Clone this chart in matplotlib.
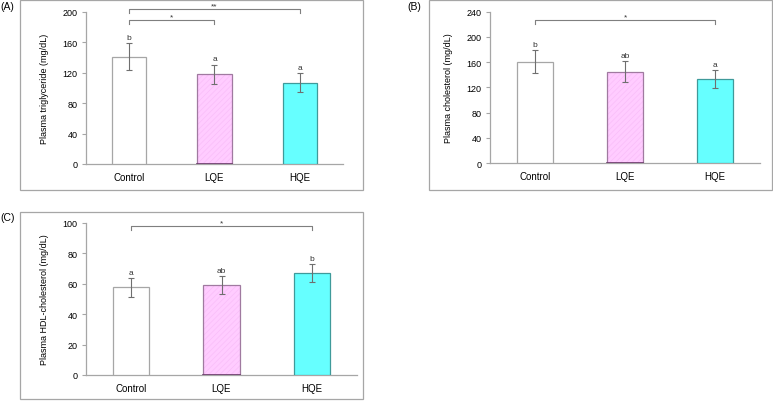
import matplotlib
matplotlib.use("Agg")
import matplotlib.pyplot as plt
from matplotlib.patches import Rectangle

plt.rcParams['font.family'] = ['Liberation Sans', 'DejaVu Sans']
plt.rcParams['hatch.linewidth'] = 0.5

groups = ["Control", "LQE", "HQE"]

tg_mean = [141, 118, 107]
tg_err = [18, 12.5, 12]
tg_letters = ["b", "a", "a"]

chol_mean = [161, 145, 133]
chol_err = [18, 17, 14.5]
chol_letters = ["b", "ab", "a"]

hdl_mean = [57.7, 59, 67]
hdl_err = [6.2, 6, 6]
hdl_letters = ["a", "ab", "b"]

fill_colors = ["#ffffff", "#ffccff", "#66ffff"]
edge_colors = ["#a6a6a6", "#a07aa0", "#3f9a9a"]

W, H = 773, 402
fig = plt.figure(figsize=(W / 100, H / 100), dpi=100)

def fx(px):
    return px / W

def fy(py):
    return (H - py) / H

def panel_box(x0, y0, x1, y1):
    fig.patches.append(Rectangle((fx(x0), fy(y1)), fx(x1) - fx(x0), fy(y0) - fy(y1),
                                 transform=fig.transFigure, fill=False,
                                 edgecolor="#a6a6a6", linewidth=0.9))

def make_axes(l, r, t, b):
    return fig.add_axes([fx(l), fy(b), fx(r) - fx(l), fy(t) - fy(b)])

def bracket(ax, x1, x2, y, drop, label):
    ax.plot([x1, x1, x2, x2], [y - drop, y, y, y - drop], color="#7f7f7f",
            linewidth=0.8, clip_on=False)
    ax.text((x1 + x2) / 2, y, label, ha="center", va="bottom", fontsize=6,
            color="#333333", clip_on=False)

def draw(ax, means, errs, letters, ymax, step, ylabel, letter_off):
    x = list(range(len(groups)))
    for i in x:
        if i == 1:
            ax.bar(i, means[i], width=0.4, color=fill_colors[i], edgecolor="#f9bdf9",
                   hatch="//////", linewidth=0, zorder=2)
            ax.bar(i, means[i], width=0.4, color="none", edgecolor=edge_colors[i],
                   linewidth=0.9, zorder=3)
            ax.plot([i - 0.2, i + 0.2], [0, 0], color="#6a3a6a", linewidth=1.2, zorder=3.5)
        else:
            ax.bar(i, means[i], width=0.4, color=fill_colors[i], edgecolor=edge_colors[i],
                   linewidth=0.9, zorder=3)
    ax.errorbar(x, means, yerr=errs, fmt="none", ecolor="#6f6f6f", elinewidth=0.8,
                capsize=2, capthick=0.8, zorder=4)
    for i in x:
        ax.text(i, means[i] + errs[i] + letter_off, letters[i], ha="center", va="bottom",
                fontsize=6, color="#333333")
    ax.set_xlim(-0.5, len(groups) - 0.5)
    ax.set_ylim(0, ymax)
    ax.set_yticks(range(0, ymax + 1, step))
    ax.set_xticks(x)
    ax.set_xticklabels(groups, fontsize=7)
    ax.tick_params(axis="x", length=0, pad=6)
    ax.tick_params(axis="y", length=3, width=0.8, color="#a6a6a6", labelsize=6.5, pad=3)
    for s in ["top", "right"]:
        ax.spines[s].set_visible(False)
    for s in ["left", "bottom"]:
        ax.spines[s].set_color("#a6a6a6")
        ax.spines[s].set_linewidth(0.9)
    ax.set_ylabel(ylabel, fontsize=6.5, labelpad=10)

# Panel A
panel_box(20, 0.5, 363, 190.5)
axA = make_axes(86, 343, 12.7, 165)
draw(axA, tg_mean, tg_err, tg_letters, 200, 40, "Plasma triglyceride (mg/dL)", 3)
bracket(axA, 0, 1, 189, 5, "*")
bracket(axA, 0, 2, 203, 5, "**")
fig.text(fx(0), fy(7), "(A)", fontsize=7.5, va="center", ha="left")

# Panel B
panel_box(429, 0.5, 772, 190.5)
axB = make_axes(490, 760, 12.7, 164)
draw(axB, chol_mean, chol_err, chol_letters, 240, 40, "Plasma cholesterol (mg/dL)", 3.5)
bracket(axB, 0, 2, 227, 6, "*")
fig.text(fx(407), fy(7), "(B)", fontsize=7.5, va="center", ha="left")

# Panel C
panel_box(20, 212.7, 363, 400)
axC = make_axes(86, 357, 224, 376)
draw(axC, hdl_mean, hdl_err, hdl_letters, 100, 20, "Plasma HDL-cholesterol (mg/dL)", 1.5)
bracket(axC, 0, 2, 98, 2.5, "*")
fig.text(fx(0), fy(218), "(C)", fontsize=7.5, va="center", ha="left")

fig.savefig("out.png", dpi=100)
